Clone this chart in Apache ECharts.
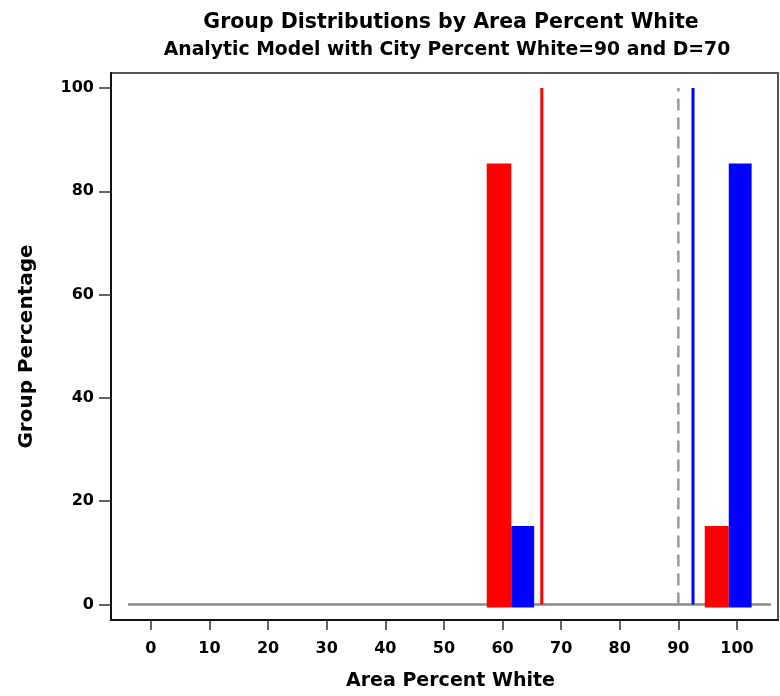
<!DOCTYPE html>
<html>
<head>
<meta charset="utf-8">
<script src="https://cdn.jsdelivr.net/npm/echarts@6/dist/echarts.min.js"></script>
<style>html,body{margin:0;padding:0;background:#fff}#c{width:780px;height:696px}</style>
</head>
<body>
<div id="c"></div>
<script>
// Data
const xTicks = [0, 10, 20, 30, 40, 50, 60, 70, 80, 90, 100];
const yTicks = [0, 20, 40, 60, 80, 100];
// histogram bins: [start, end, group percentage]
const redBins = [[57.3, 61.5, 85.4], [94.5, 98.6, 15.2]];
const blueBins = [[61.5, 65.4, 15.2], [98.6, 102.5, 85.4]];
const redMean = 66.7;
const blueMean = 92.5;
const cityPercentWhite = 90;
const zeroLineRange = [-3.9, 105.8];
const refLineTop = 100;

const chart = echarts.init(document.getElementById('c'));
const FONT = 'DejaVu Sans';

function binRenderer(color) {
  return function (params, api) {
    const p0 = api.coord([api.value(0), 0]);
    const p1 = api.coord([api.value(1), api.value(2)]);
    return {
      type: 'rect',
      shape: { x: p0[0], y: p1[1], width: p1[0] - p0[0], height: p0[1] - p1[1] + 3 },
      style: { fill: color }
    };
  };
}

chart.setOption({
  animation: false,
  title: [
    { text: 'Group Distributions by Area Percent White', left: 446, top: 7, textAlign: 'center',
      textStyle: { fontFamily: FONT, fontWeight: 'bold', fontSize: 20.5, color: '#000' } },
    { text: 'Analytic Model with City Percent White=90 and D=70', left: 442, top: 36, textAlign: 'center',
      textStyle: { fontFamily: FONT, fontWeight: 'bold', fontSize: 18.8, color: '#000' } }
  ],
  grid: { left: 111, top: 73, right: 2, bottom: 73, show: true, borderColor: '#555', borderWidth: 2 },
  xAxis: {
    type: 'value', min: -6.8, max: 107,
    name: 'Area Percent White', nameLocation: 'middle', nameGap: 52,
    nameTextStyle: { fontFamily: FONT, fontWeight: 'bold', fontSize: 19, color: '#000', padding: [0, 0, 0, 12] },
    axisLine: { show: true, onZero: false, lineStyle: { color: '#111', width: 2 } },
    axisTick: { show: true, length: 10, customValues: xTicks, lineStyle: { color: '#333', width: 1.5 } },
    axisLabel: { customValues: xTicks, margin: 21, fontFamily: FONT, fontWeight: 'bold', fontSize: 16, color: '#000' },
    splitLine: { show: false }
  },
  yAxis: {
    type: 'value', min: -3, max: 102.9,
    name: 'Group Percentage', nameLocation: 'middle', nameGap: 74, nameRotate: 90,
    nameTextStyle: { fontFamily: FONT, fontWeight: 'bold', fontSize: 20, color: '#000' },
    axisLine: { show: true, onZero: false, lineStyle: { color: '#111', width: 2 } },
    axisTick: { show: true, length: 12, customValues: yTicks, lineStyle: { color: '#333', width: 1.5 } },
    axisLabel: { customValues: yTicks, margin: 17, fontFamily: FONT, fontWeight: 'bold', fontSize: 16, color: '#000' },
    splitLine: { show: false }
  },
  series: [
    { type: 'line', data: [[zeroLineRange[0], 0], [zeroLineRange[1], 0]], symbol: 'none',
      lineStyle: { color: '#8a8a8a', width: 2.5 }, z: 1 },
    { type: 'line', data: [[cityPercentWhite, 0], [cityPercentWhite, refLineTop]], symbol: 'none',
      lineStyle: { color: '#999', width: 2.5, type: [12, 7] }, z: 2 },
    { type: 'line', data: [[redMean, 0], [redMean, refLineTop]], symbol: 'none',
      lineStyle: { color: '#ff0000', width: 3 }, z: 2 },
    { type: 'line', data: [[blueMean, 0], [blueMean, refLineTop]], symbol: 'none',
      lineStyle: { color: '#0000ff', width: 3 }, z: 2 },
    { type: 'custom', data: redBins, renderItem: binRenderer('#ff0000'), encode: { x: [0, 1], y: 2 }, z: 3 },
    { type: 'custom', data: blueBins, renderItem: binRenderer('#0000ff'), encode: { x: [0, 1], y: 2 }, z: 3 }
  ]
});
</script>
</body>
</html>
